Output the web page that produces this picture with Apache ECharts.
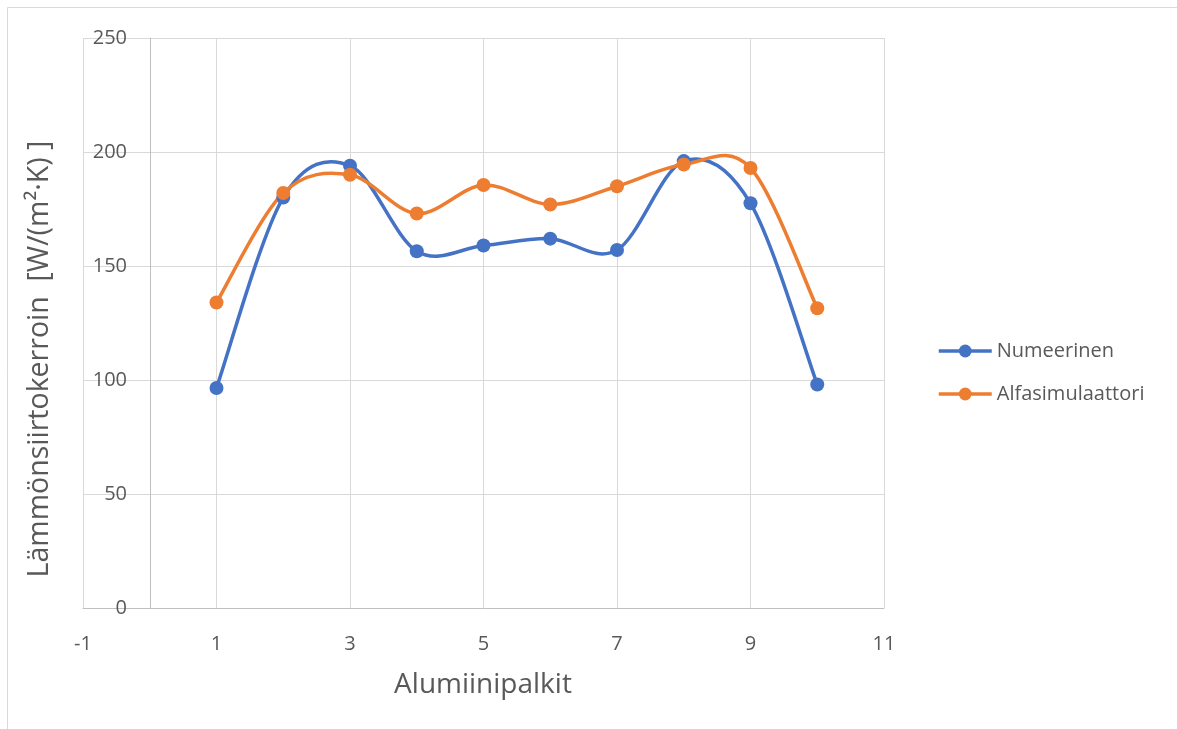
<!DOCTYPE html>
<html>
<head>
<meta charset="utf-8">
<script src="https://cdn.jsdelivr.net/npm/echarts@6/dist/echarts.min.js"></script>
<style>
  html, body { margin: 0; padding: 0; background: #fff; }
  #chart { width: 1177px; height: 729px; }
</style>
</head>
<body>
<div id="chart"></div>
<script>
const xValues = [1, 2, 3, 4, 5, 6, 7, 8, 9, 10];
const numeerinen = [96.5, 180, 194, 156.5, 159, 162, 157, 196, 177.5, 98];
const alfasimulaattori = [134, 182, 190, 173, 185.5, 177, 185, 194.5, 193, 131.5];
const seriesNames = ['Numeerinen', 'Alfasimulaattori'];
const seriesColors = ['#4472C4', '#ED7D31'];
const xTitle = 'Alumiinipalkit';
const yTitle = 'Lämmönsiirtokerroin  [W/(m²·K) ]';

const font = '"Open Sans", "Noto Sans", sans-serif';
const chart = echarts.init(document.getElementById('chart'));
const pair = (ys) => xValues.map((x, i) => [x, ys[i]]);

// Smooth curve (Excel-like Catmull-Rom Bezier) through points mapped by the chart's own scales
function smoothCurve(ys, color, z) {
  return {
    type: 'custom',
    silent: true,
    z: z,
    data: [0],
    renderItem: function (params, api) {
      const pts = xValues.map((x, i) => api.coord([x, ys[i]]));
      const n = pts.length;
      const t = 1 / 6;
      let d = 'M' + pts[0][0] + ' ' + pts[0][1];
      for (let i = 0; i < n - 1; i++) {
        const p0 = pts[Math.max(i - 1, 0)], p1 = pts[i], p2 = pts[i + 1], p3 = pts[Math.min(i + 2, n - 1)];
        const c1x = p1[0] + (p2[0] - p0[0]) * t, c1y = p1[1] + (p2[1] - p0[1]) * t;
        const c2x = p2[0] - (p3[0] - p1[0]) * t, c2y = p2[1] - (p3[1] - p1[1]) * t;
        d += ' C' + c1x + ' ' + c1y + ' ' + c2x + ' ' + c2y + ' ' + p2[0] + ' ' + p2[1];
      }
      return {
        type: 'path',
        shape: { pathData: d },
        style: { fill: null, stroke: color, lineWidth: 3.5, lineCap: 'round', lineJoin: 'round' }
      };
    }
  };
}

chart.setOption({
  animation: false,
  textStyle: { fontFamily: font },
  grid: { left: 83, right: 293, top: 38, bottom: 121 },
  graphic: [
    { type: 'rect', shape: { x: 7.5, y: 7.5, width: 1300, height: 900 },
      style: { fill: 'none', stroke: '#d9d9d9', lineWidth: 1 }, silent: true },
    { type: 'text', x: 40, y: 359, rotation: Math.PI / 2,
      style: { text: yTitle, fill: '#595959', font: '28.5px ' + font, textAlign: 'center', textVerticalAlign: 'middle' } },
    { type: 'text', x: 483, y: 685,
      style: { text: xTitle, fill: '#595959', font: '28px ' + font, textAlign: 'center', textVerticalAlign: 'middle' } }
  ],
  legend: {
    orient: 'vertical', left: 932, top: 336, itemWidth: 53, itemHeight: 16, itemGap: 23,
    textStyle: { color: '#595959', fontSize: 20, fontFamily: font },
    lineStyle: { opacity: 1, width: 3.5 },
    data: seriesNames
  },
  xAxis: {
    type: 'value', min: -1, max: 11, interval: 2,
    axisLine: { onZero: false, lineStyle: { color: '#bfbfbf', width: 1 } },
    axisTick: { show: false },
    axisLabel: { color: '#595959', fontSize: 20, margin: 26 },
    splitLine: { show: true, lineStyle: { color: '#d9d9d9', width: 1 } }
  },
  yAxis: {
    type: 'value', min: 0, max: 250, interval: 50,
    axisLine: { show: true, onZero: true, lineStyle: { color: '#bfbfbf', width: 1 } },
    axisTick: { show: false },
    axisLabel: { color: '#595959', fontSize: 20, margin: -44 },
    splitLine: { show: true, lineStyle: { color: '#d9d9d9', width: 1 } }
  },
  series: [
    smoothCurve(numeerinen, seriesColors[0], 3),
    smoothCurve(alfasimulaattori, seriesColors[1], 4),
    { name: seriesNames[0], type: 'line', data: pair(numeerinen),
      symbol: 'circle', symbolSize: 14, color: seriesColors[0],
      lineStyle: { width: 3.5, color: seriesColors[0], opacity: 0 }, itemStyle: { color: seriesColors[0] }, z: 5 },
    { name: seriesNames[1], type: 'line', data: pair(alfasimulaattori),
      symbol: 'circle', symbolSize: 14, color: seriesColors[1],
      lineStyle: { width: 3.5, color: seriesColors[1], opacity: 0 }, itemStyle: { color: seriesColors[1] }, z: 6 }
  ]
});
</script>
</body>
</html>
